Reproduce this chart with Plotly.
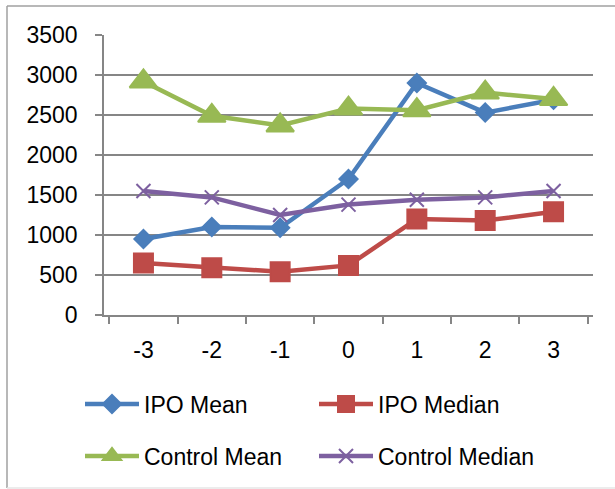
import plotly.graph_objects as go

periods = ["-3", "-2", "-1", "0", "1", "2", "3"]
ipo_mean = [950, 1100, 1090, 1700, 2900, 2530, 2690]
ipo_median = [650, 590, 540, 620, 1200, 1180, 1290]
control_mean = [2920, 2490, 2370, 2580, 2560, 2780, 2700]
control_median = [1550, 1470, 1250, 1380, 1440, 1470, 1550]
y_ticks = [0, 500, 1000, 1500, 2000, 2500, 3000, 3500]

series = [
    ("IPO Mean", ipo_mean, "#4A7EBB", "diamond", 14, "legend"),
    ("IPO Median", ipo_median, "#BE4B48", "square", 19, "legend"),
    ("Control Mean", control_mean, "#98B954", "triangle-up", 24, "legend2"),
    ("Control Median", control_median, "#7D60A0", "x-thin-open", 14, "legend2"),
]

fig = go.Figure()
for name, vals, color, sym, size, leg in series:
    fig.add_trace(go.Scatter(
        x=periods, y=vals, name=name, mode="lines+markers", legend=leg,
        line=dict(color=color, width=4.5),
        marker=dict(symbol=sym, size=size, color=color,
                    line=dict(color=color, width=2)),
    ))

W, H = 615, 489
L, R, T, B = 104, 22, 35, 174
pw, ph = W - L - R, H - T - B

def px(x):
    return (x - L) / pw

def py(y):
    return (H - B - y) / ph

frame = "#A0A0A0"
fig.add_shape(type="line", xref="paper", yref="paper",
              x0=px(7), x1=px(620), y0=py(6), y1=py(6),
              line=dict(color=frame, width=1.5), layer="below")
fig.add_shape(type="line", xref="paper", yref="paper",
              x0=px(7), x1=px(7), y0=py(6), y1=py(488),
              line=dict(color=frame, width=1.5), layer="below")
fig.add_shape(type="line", xref="paper", yref="paper",
              x0=px(7), x1=px(620), y0=py(488), y1=py(488),
              line=dict(color="#E6E6E6", width=1.5), layer="below")

font = "Liberation Sans, Arial, sans-serif"
leg_common = dict(orientation="h", xanchor="left", yanchor="middle",
                  entrywidth=165, entrywidthmode="pixels",
                  font=dict(size=23, family=font), itemwidth=54,
                  bgcolor="rgba(0,0,0,0)", borderwidth=0)
fig.update_layout(
    width=W, height=H,
    margin=dict(l=L, r=R, t=T, b=B, autoexpand=False),
    paper_bgcolor="white", plot_bgcolor="white",
    font=dict(family=font, size=23, color="black"),
    showlegend=True,
    legend=dict(x=px(80), y=py(404), **leg_common),
    legend2=dict(x=px(80), y=py(456), **leg_common),
    xaxis=dict(type="category", showgrid=False, showline=True, linecolor="#868686",
               linewidth=1.5, ticks="outside", tickson="boundaries", ticklen=7,
               tickcolor="#868686", tickwidth=1.5, ticklabelstandoff=14,
               automargin=False),
    yaxis=dict(range=[0, 3500], tickvals=y_ticks, showgrid=True, gridcolor="#868686",
               gridwidth=1.5, showline=True, linecolor="#868686", linewidth=1.5,
               ticks="outside", ticklen=7, tickcolor="#868686", tickwidth=1.5,
               zeroline=False, ticklabelstandoff=13, automargin=False),
)

fig.write_html("out.html", config={"displayModeBar": False},
               post_script="document.body.style.margin='0px';")
